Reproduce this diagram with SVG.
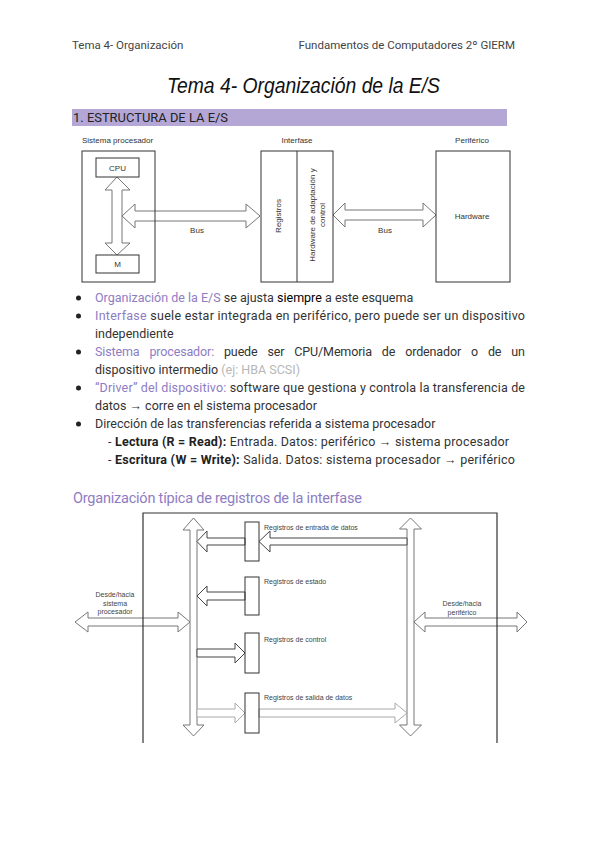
<svg xmlns="http://www.w3.org/2000/svg" width="600" height="848" viewBox="0 0 600 848">
<style>
.hdr{font-family:Roboto,"Liberation Sans",sans-serif;font-size:11.5px;fill:#444}
.body{font-family:Roboto,"Liberation Sans",sans-serif;font-size:12.5px;fill:#333}
.pur{fill:#8e7cc3}
.gry{fill:#b7b7b7}
.b{font-weight:bold;fill:#222}
.lbl{font-family:"Liberation Sans",Arial,sans-serif;font-size:8px;fill:#333}
.sm{font-family:"Liberation Sans",Arial,sans-serif;font-size:7px;fill:#444}
.box{fill:none;stroke:#333;stroke-width:1}
.arr{fill:#fff;stroke:#777;stroke-width:1;stroke-linejoin:miter}
.arrd{fill:#fff;stroke:#444;stroke-width:1}
.arrl{fill:#fff;stroke:#aaa;stroke-width:1}
</style>
<rect width="600" height="848" fill="#fff"/>
<g id="header">
<text class="hdr" x="72" y="49">Tema 4- Organización</text>
<text class="hdr" x="515" y="49" text-anchor="end">Fundamentos de Computadores 2º GIERM</text>
<text x="167" y="93" font-family="'Liberation Sans',sans-serif" font-style="italic" font-size="22" fill="#111" textLength="273" lengthAdjust="spacingAndGlyphs">Tema 4- Organización de la E/S</text>
</g>
<g id="section1">
<rect x="72" y="109" width="435" height="17" fill="#b4a7d6"/>
<text x="73" y="122" font-family="Roboto,'Liberation Sans',sans-serif" font-size="12.5" fill="#222" textLength="155" lengthAdjust="spacingAndGlyphs">1. ESTRUCTURA DE LA E/S</text>
</g>
<!-- Top diagram -->
<g id="top-connectors">
<polygon class="arr" points="117,177 130,190 122,190 122,243 130,243 117,255 105,243 112,243 112,190 105,190"/>
<polygon class="arr" points="122,216 135,204 135,211 246,211 246,204 260,216 246,228 246,221 135,221 135,228"/>
<polygon class="arr" points="333,215 345,203 345,210 423,210 423,203 436,215 423,227 423,220 345,220 345,227"/>
<text class="lbl" x="197" y="233" text-anchor="middle">Bus</text>
<text class="lbl" x="385" y="233" text-anchor="middle">Bus</text>
</g>
<g id="sistema-procesador">
<text class="lbl" x="82" y="143">Sistema procesador</text>
<rect class="box" x="82" y="151" width="73" height="131"/>
</g>
<g id="cpu">
<rect class="box" x="96" y="158" width="43" height="19"/>
<text class="lbl" x="117.5" y="170.5" text-anchor="middle">CPU</text>
</g>
<g id="m">
<rect class="box" x="96" y="255" width="43" height="18"/>
<text class="lbl" x="117.5" y="267" text-anchor="middle">M</text>
</g>
<g id="interfase">
<text class="lbl" x="297" y="143" text-anchor="middle">Interfase</text>
<rect class="box" x="261" y="151" width="72" height="131"/>
<line x1="297" y1="151" x2="297" y2="282" stroke="#333"/>
<text class="lbl" transform="translate(281,216) rotate(-90)" text-anchor="middle">Registros</text>
<text class="lbl" transform="translate(315,215) rotate(-90)" text-anchor="middle">Hardware de adaptación y</text>
<text class="lbl" transform="translate(325,215) rotate(-90)" text-anchor="middle">control</text>
</g>
<g id="periferico">
<text class="lbl" x="472" y="143" text-anchor="middle">Periférico</text>
<rect class="box" x="436" y="151" width="74" height="131"/>
<text class="lbl" x="472" y="219" text-anchor="middle">Hardware</text>
</g>
<!-- Bullets -->
<g id="bullets">
<circle cx="78.5" cy="298" r="2.5" fill="#222"/>
<circle cx="78.5" cy="316" r="2.5" fill="#222"/>
<circle cx="78.5" cy="352" r="2.5" fill="#222"/>
<circle cx="78.5" cy="388" r="2.5" fill="#222"/>
<circle cx="78.5" cy="424" r="2.5" fill="#222"/>
<text class="body" x="95" y="302"><tspan class="pur">Organización de la E/S</tspan> se ajusta <tspan fill="#000">siempre</tspan> a este esquema</text>
<text class="body" x="95" y="320" textLength="430"><tspan class="pur">Interfase</tspan> suele estar integrada en periférico, pero puede ser un dispositivo</text>
<text class="body" x="95" y="338">independiente</text>
<text class="body" x="95" y="356" word-spacing="7" textLength="430"><tspan class="pur">Sistema procesador:</tspan> puede ser CPU/Memoria de ordenador o de un</text>
<text class="body" x="95" y="374">dispositivo intermedio <tspan class="gry">(ej: HBA SCSI)</tspan></text>
<text class="body" x="95" y="392" textLength="430"><tspan class="pur">“Driver” del dispositivo:</tspan> software que gestiona y controla la transferencia de</text>
<text class="body" x="95" y="410">datos → corre en el sistema procesador</text>
<text class="body" x="95" y="428">Dirección de las transferencias referida a sistema procesador</text>
<text class="body" x="108" y="446" textLength="401">- <tspan class="b">Lectura (R = Read):</tspan> Entrada. Datos: periférico → sistema procesador</text>
<text class="body" x="108" y="464" textLength="407">- <tspan class="b">Escritura (W = Write):</tspan> Salida. Datos: sistema procesador → periférico</text>
</g>
<g id="section2">
<text x="73" y="503" font-family="Roboto,'Liberation Sans',sans-serif" font-size="14.5" fill="#8e7cc3" textLength="289">Organización típica de registros de la interfase</text>
</g>
<!-- Bottom diagram -->
<g id="bottom-connectors">
<polygon class="arr" points="193.5,518 204,530 197,530 197,725 204,725 193.5,736 183,725 190,725 190,530 183,530"/>
<polygon class="arr" points="410.5,518 421.5,529 414,529 414,725 421.5,725 410.5,736 399.5,725 407,725 407,529 399.5,529"/>
<polygon class="arr" points="75,622 88,612 88,618 178,618 178,612 190,622 178,632 178,626 88,626 88,632"/>
<polygon class="arr" points="414,622 425,612 425,618 517,618 517,612 527,622 517,632 517,626 425,626 425,632"/>
<polygon class="arrd" points="197,541.5 207,531 207,538 245,538 245,545 207,545 207,552"/>
<polygon class="arrd" points="259,541.5 270,531 270,538 407,538 407,545 270,545 270,552"/>
<polygon class="arrd" points="197,596 207,586 207,592 245,592 245,600 207,600 207,606"/>
<polygon class="arrd" points="245,653 235,643 235,649 197,649 197,657 235,657 235,663"/>
<polygon class="arrl" points="245,713 235,703 235,709 197,709 197,717 235,717 235,723"/>
<polygon class="arrl" points="407,713 395,703 395,709 259,709 259,717 395,717 395,723"/>
</g>
<g id="interfase-frame">
<polyline points="143,743 143,513 497,513 497,743" fill="none" stroke="#333" stroke-width="1.2"/>
</g>
<g id="desde-sistema">
<text class="sm" x="115" y="597" text-anchor="middle">Desde/hacia</text>
<text class="sm" x="115" y="606" text-anchor="middle">sistema</text>
<text class="sm" x="115" y="614" text-anchor="middle">procesador</text>
</g>
<g id="desde-periferico">
<text class="sm" x="462" y="606" text-anchor="middle">Desde/hacia</text>
<text class="sm" x="462" y="615" text-anchor="middle">periférico</text>
</g>
<g id="reg-entrada">
<rect class="box" x="245" y="522" width="14" height="39" fill="#fff"/>
<text class="sm" x="264" y="530">Registros de entrada de datos</text>
</g>
<g id="reg-estado">
<rect class="box" x="245" y="577" width="14" height="38"/>
<text class="sm" x="264" y="584">Registros de estado</text>
</g>
<g id="reg-control">
<rect class="box" x="245" y="633" width="14" height="40"/>
<text class="sm" x="264" y="642">Registros de control</text>
</g>
<g id="reg-salida">
<rect class="box" x="245" y="693" width="14" height="40"/>
<text class="sm" x="264" y="700">Registros de salida de datos</text>
</g>
</svg>
